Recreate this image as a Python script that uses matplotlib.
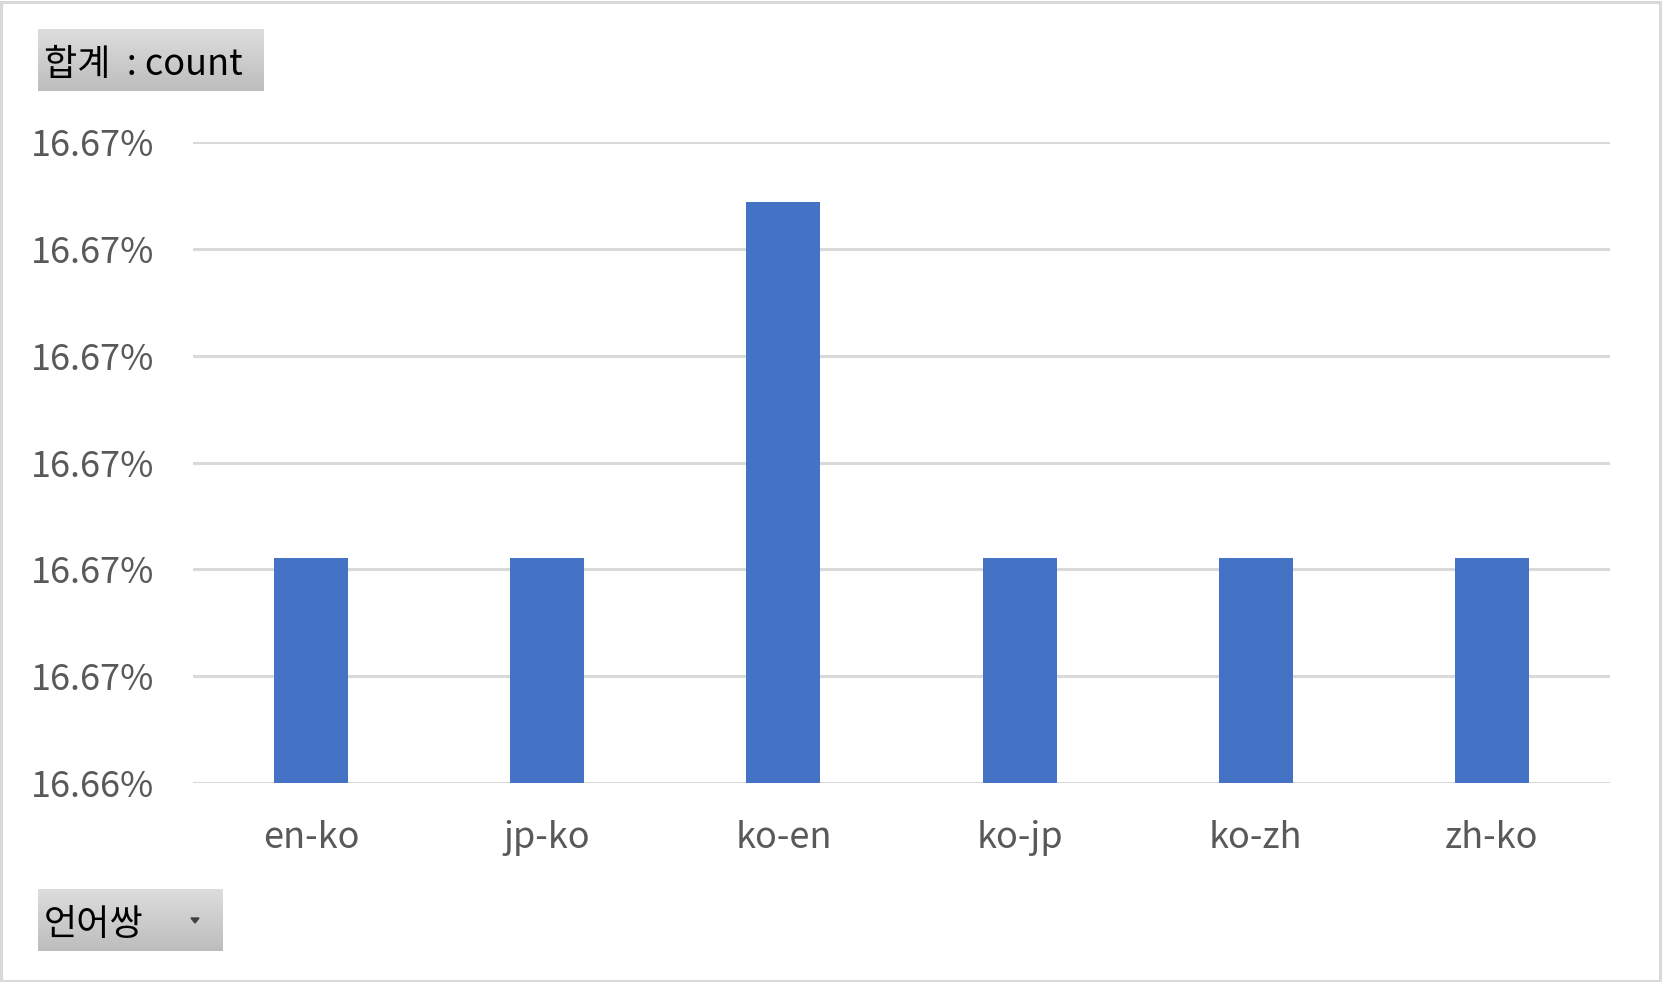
import numpy as np
import matplotlib
matplotlib.use("Agg")
import matplotlib.pyplot as plt
from matplotlib.patches import Rectangle, Polygon
from matplotlib.ticker import FuncFormatter, MultipleLocator
from decimal import Decimal, ROUND_HALF_UP

plt.rcParams['font.family'] = ['Noto Sans CJK KR', 'DejaVu Sans']

# 데이터 (언어쌍별 비율, %)
categories = ["en-ko", "jp-ko", "ko-en", "ko-jp", "ko-zh", "zh-ko"]
shares = [16.66611, 16.66611, 16.66944, 16.66611, 16.66611, 16.66611]
y_min, y_max, y_step = 16.664, 16.670, 0.001

W, H = 1662, 982
fig = plt.figure(figsize=(W / 100, H / 100), dpi=100)


def px_axes(x0, y0, x1, y1):
    # coordenadas en pixeles (origen arriba a la izquierda)
    return fig.add_axes([x0 / W, 1 - y1 / H, (x1 - x0) / W, (y1 - y0) / H])


def pct(v, pos):
    # redondeo como Excel (mitad hacia arriba)
    d = Decimal(f"{v:.6f}").quantize(Decimal("0.01"), rounding=ROUND_HALF_UP)
    return f"{d}%"


# ---- grafico principal ----
ax = px_axes(193, 142, 1610, 783)
x = np.arange(len(categories))
ax.bar(x, shares, width=0.313, color="#4472C4", zorder=3)
ax.set_xlim(-0.5, len(categories) - 0.5)
ax.set_ylim(y_min, y_max)
ax.yaxis.set_major_locator(MultipleLocator(y_step))
ax.yaxis.set_major_formatter(FuncFormatter(pct))
ax.set_xticks(x)
ax.set_xticklabels(categories)
ax.grid(axis="y", color="#d9d9d9", linewidth=2.2, zorder=0)
ax.set_axisbelow(True)
for s in ax.spines.values():
    s.set_visible(False)
ax.tick_params(axis="y", length=0, pad=28, labelsize=26, labelcolor="#595959")
ax.tick_params(axis="x", length=0, pad=27, labelsize=26, labelcolor="#595959")

# ---- botones de la tabla dinamica ----
grad = np.linspace(0, 1, 100).reshape(-1, 1)
cmap = matplotlib.colors.LinearSegmentedColormap.from_list("btn", ["#dddddd", "#bdbdbd"])


def button(x0, y0, x1, y1, label, arrow=False):
    b = px_axes(x0, y0, x1, y1)
    b.imshow(grad, aspect="auto", cmap=cmap, extent=(0, 1, 0, 1), origin="upper")
    b.set_xlim(0, 1)
    b.set_ylim(0, 1)
    b.axis("off")
    b.text(6 / (x1 - x0), 0.42, label, fontsize=26, color="black", va="center", ha="left",
           fontweight="light")
    if arrow:
        cx, cy = 195, 920
        fig.add_artist(Polygon([[(cx - 4) / W, 1 - (cy - 2) / H], [(cx + 4) / W, 1 - (cy - 2) / H],
                                [cx / W, 1 - (cy + 3) / H]], closed=True, color="#404040",
                               transform=fig.transFigure))


button(38, 29, 264, 91, "합계  : count")
button(38, 889, 223, 951, "언어쌍", arrow=True)

# borde del grafico
fig.add_artist(Rectangle((1 / W, 1 / H), 1 - 3 / W, 1 - 3 / H, transform=fig.transFigure,
                         fill=False, edgecolor="#d9d9d9", linewidth=2.2))

fig.savefig("out.png", dpi=100)
